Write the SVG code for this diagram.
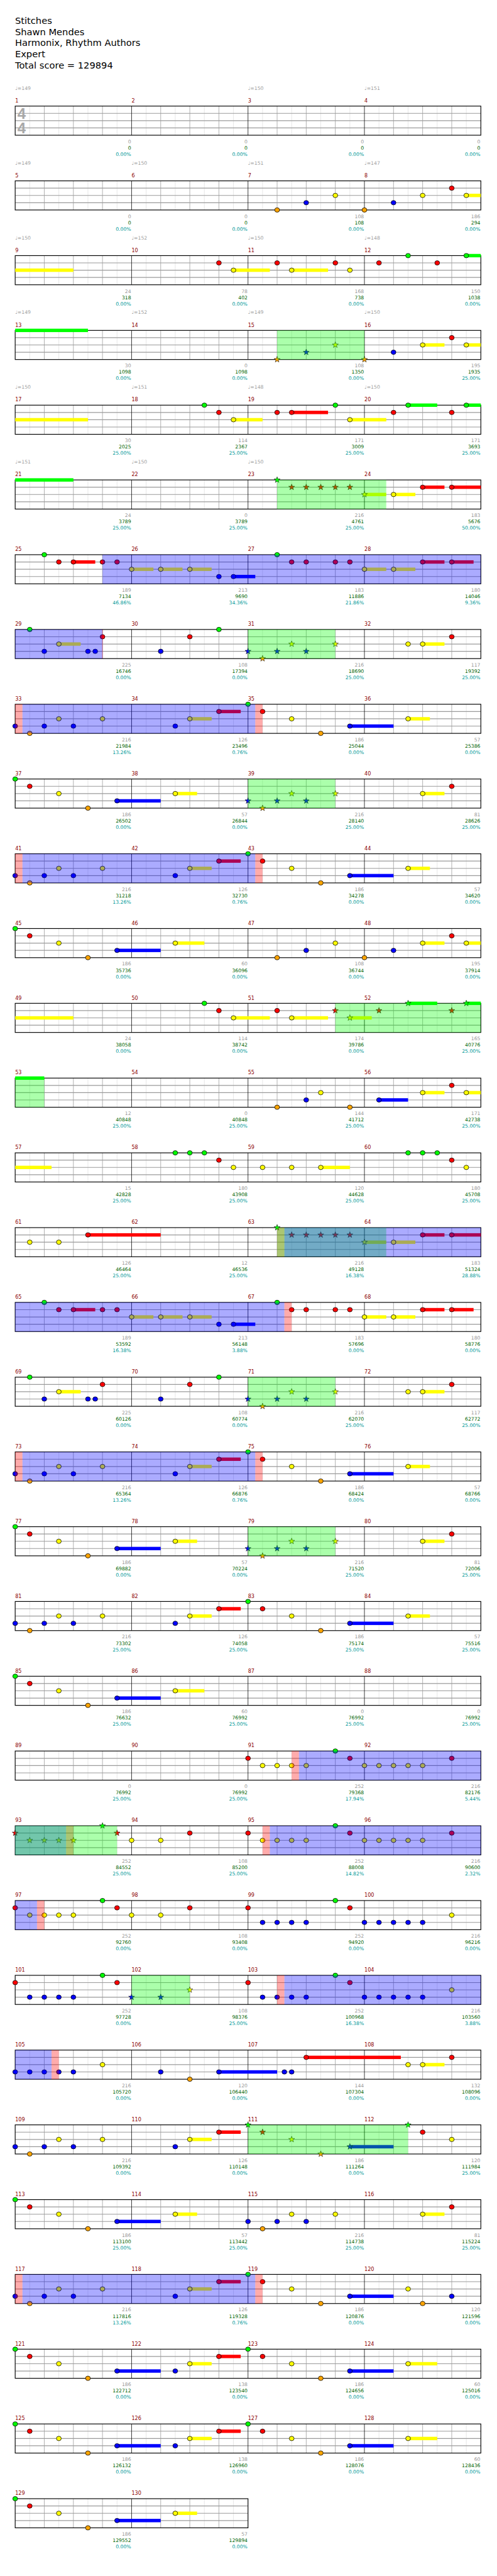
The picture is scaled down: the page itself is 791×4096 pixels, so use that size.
<svg xmlns="http://www.w3.org/2000/svg" width="791" height="4096" viewBox="0 0 791 4096">
<style>
text{font-family:"DejaVu Sans",Verdana,sans-serif}
.h{font-size:19px;fill:#000}
.t{font-size:10px;fill:#a0a0a0}
.m{font-size:10.5px;fill:#8b0000}
.s1{font-size:10px;fill:#999;text-anchor:end}
.s2{font-size:10px;fill:#006400;text-anchor:end}
.s3{font-size:10px;fill:#009999;text-anchor:end}
.ts{font-family:"Liberation Sans",Arial,sans-serif;font-size:31px;font-weight:bold;fill:#a8a8a8;text-anchor:middle}
.sg{fill:#0f0}.sr{fill:#f00}.sy{fill:#ff0}.sb{fill:#00f}.so{fill:#ffa500}
.ob{fill:#00f;fill-opacity:.33}.og{fill:#0f0;fill-opacity:.33}.oq{fill:#f00;fill-opacity:.33}
</style>
<defs>
<g id="grid4">
<rect width="960" height="60" fill="#fff"/>
<path d="M30 0V60M90 0V60M150 0V60M210 0V60M270 0V60M330 0V60M390 0V60M450 0V60M510 0V60M570 0V60M630 0V60M690 0V60M750 0V60M810 0V60M870 0V60M930 0V60" stroke="#e0e0e0"/>
<path d="M60 0V60M120 0V60M180 0V60M300 0V60M360 0V60M420 0V60M540 0V60M600 0V60M660 0V60M780 0V60M840 0V60M900 0V60" stroke="#9a9a9a"/>
<path d="M0 15H960M0 30H960M0 45H960" stroke="#9a9a9a" stroke-width="1.5"/>
<path d="M240 0V60M480 0V60M720 0V60" stroke="#000"/>
<rect width="960" height="60" fill="none" stroke="#000" stroke-width="1.5"/>
</g>
<g id="grid2">
<rect width="480" height="60" fill="#fff"/>
<path d="M30 0V60M90 0V60M150 0V60M210 0V60M270 0V60M330 0V60M390 0V60M450 0V60" stroke="#e0e0e0"/>
<path d="M60 0V60M120 0V60M180 0V60M300 0V60M360 0V60M420 0V60" stroke="#9a9a9a"/>
<path d="M0 15H480M0 30H480M0 45H480" stroke="#9a9a9a" stroke-width="1.5"/>
<path d="M240 0V60" stroke="#000"/>
<rect width="480" height="60" fill="none" stroke="#000" stroke-width="1.5"/>
</g>
<ellipse id="nG" rx="5" ry="4.6" fill="#0f0" stroke="#000"/>
<ellipse id="nR" cy="15" rx="5" ry="4.6" fill="#f00" stroke="#000"/>
<ellipse id="nY" cy="30" rx="5" ry="4.6" fill="#ff0" stroke="#000"/>
<ellipse id="nB" cy="45" rx="5" ry="4.6" fill="#00f" stroke="#000"/>
<ellipse id="nO" cy="60" rx="5" ry="4.6" fill="#ffa500" stroke="#000"/>
<path id="st" d="M0-6.5L1.53-2.1L6.18-2.01L2.47.8L3.82 5.26L0 2.6L-3.82 5.26L-2.47.8L-6.18-2.01L-1.53-2.1Z" stroke="#000" stroke-width=".7"/>
<use id="sG" href="#st" fill="#0f0"/>
<use id="sR" href="#st" y="15" fill="#f00"/>
<use id="sY" href="#st" y="30" fill="#ff0"/>
<use id="sB" href="#st" y="45" fill="#00f"/>
<use id="sO" href="#st" y="60" fill="#ffa500"/>
<g id="pA">
<rect class="sy" x="360" y="26.5" width="45" height="7"/><rect class="sr" x="420" y="11.5" width="45" height="7"/><rect class="sb" x="690" y="41.5" width="90" height="7"/><rect class="sy" x="810" y="26.5" width="45" height="7"/>
<use href="#nB"/><use href="#nO" x="30"/><use href="#nB" x="60"/><use href="#nY" x="90"/><use href="#nB" x="120"/><use href="#nY" x="180"/><use href="#nB" x="330"/><use href="#nY" x="360"/><use href="#nR" x="420"/><use href="#nG" x="480"/><use href="#nR" x="510"/><use href="#nY" x="570"/><use href="#nO" x="630"/><use href="#nB" x="690"/><use href="#nY" x="810"/>
</g>
<g id="pB">
<rect class="sb" x="210" y="41.5" width="90" height="7"/><rect class="sy" x="330" y="26.5" width="45" height="7"/><rect class="sy" x="840" y="26.5" width="45" height="7"/>
<use href="#nG"/><use href="#nR" x="30"/><use href="#nY" x="90"/><use href="#nO" x="150"/><use href="#nB" x="210"/><use href="#nY" x="330"/><use href="#nY" x="840"/><use href="#nR" x="900"/>
<use href="#sB" x="480"/><use href="#sO" x="510"/><use href="#sB" x="540"/><use href="#sY" x="570"/><use href="#sB" x="600"/><use href="#sY" x="660"/>
</g>
<g id="pC">
<rect class="sr" x="120" y="11.5" width="45" height="7"/><rect class="sy" x="240" y="26.5" width="45" height="7"/><rect class="sy" x="300" y="26.5" width="45" height="7"/><rect class="sy" x="360" y="26.5" width="45" height="7"/><rect class="sb" x="450" y="41.5" width="45" height="7"/><rect class="sy" x="720" y="26.5" width="45" height="7"/><rect class="sy" x="780" y="26.5" width="45" height="7"/><rect class="sr" x="840" y="11.5" width="45" height="7"/><rect class="sr" x="900" y="11.5" width="45" height="7"/>
<use href="#nG" x="60"/><use href="#nR" x="90"/><use href="#nR" x="120"/><use href="#nR" x="180"/><use href="#nR" x="210"/><use href="#nY" x="240"/><use href="#nY" x="300"/><use href="#nY" x="360"/><use href="#nB" x="420"/><use href="#nB" x="450"/><use href="#nG" x="540"/><use href="#nR" x="570"/><use href="#nR" x="600"/><use href="#nR" x="660"/><use href="#nR" x="690"/><use href="#nY" x="720"/><use href="#nY" x="780"/><use href="#nR" x="840"/><use href="#nR" x="900"/>
</g>
<g id="pD">
<rect class="sy" x="90" y="26.5" width="45" height="7"/><rect class="sy" x="840" y="26.5" width="45" height="7"/>
<use href="#nG" x="30"/><use href="#nB" x="60"/><use href="#nY" x="90"/><use href="#nB" x="150"/><use href="#nB" x="165"/><use href="#nR" x="180"/><use href="#nB" x="300"/><use href="#nR" x="360"/><use href="#nG" x="420"/><use href="#nY" x="810"/><use href="#nY" x="840"/><use href="#nR" x="900"/>
<use href="#sB" x="480"/><use href="#sO" x="510"/><use href="#sB" x="540"/><use href="#sY" x="570"/><use href="#sB" x="600"/><use href="#sY" x="660"/>
</g>
<g id="pE">
<rect class="sb" x="210" y="41.5" width="90" height="7"/><rect class="sy" x="360" y="26.5" width="45" height="7"/><rect class="sr" x="420" y="11.5" width="45" height="7"/><rect class="sb" x="690" y="41.5" width="90" height="7"/><rect class="sy" x="810" y="26.5" width="60" height="7"/>
<use href="#nG"/><use href="#nR" x="30"/><use href="#nY" x="90"/><use href="#nO" x="150"/><use href="#nB" x="210"/><use href="#nB" x="330"/><use href="#nY" x="360"/><use href="#nR" x="420"/><use href="#nG" x="480"/><use href="#nR" x="510"/><use href="#nY" x="570"/><use href="#nO" x="630"/><use href="#nB" x="690"/><use href="#nY" x="810"/>
</g>
</defs>
<rect width="791" height="4096" fill="#fff"/>
<g transform="scale(0.772)">
<g id="header">
<text class="h" x="31" y="49">Stitches</text>
<text class="h" x="31" y="72">Shawn Mendes</text>
<text class="h" x="31" y="95">Harmonix, Rhythm Authors</text>
<text class="h" x="31" y="118">Expert</text>
<text class="h" x="31" y="141">Total score = 129894</text>
</g>

<g id="row1" transform="translate(31.3,218.5)">
<text class="t" y="-33.5">♩=149</text><text class="t" x="480" y="-33.5">♩=150</text><text class="t" x="720" y="-33.5">♩=151</text>
<text class="m" y="-7.5">1</text><text class="m" x="240" y="-7.5">2</text><text class="m" x="480" y="-7.5">3</text><text class="m" x="720" y="-7.5">4</text>
<use href="#grid4"/>
<text class="ts" x="13.2" y="26.5">4</text><text class="ts" x="13.2" y="56.5">4</text>
<text class="s1" x="239" y="76.5">0</text><text class="s1" x="479" y="76.5">0</text><text class="s1" x="719" y="76.5">0</text><text class="s1" x="959" y="76.5">0</text>
<text class="s2" x="239" y="89.5">0</text><text class="s2" x="479" y="89.5">0</text><text class="s2" x="719" y="89.5">0</text><text class="s2" x="959" y="89.5">0</text>
<text class="s3" x="239" y="102.5">0.00%</text><text class="s3" x="479" y="102.5">0.00%</text><text class="s3" x="719" y="102.5">0.00%</text><text class="s3" x="959" y="102.5">0.00%</text>
</g>

<g id="row2" transform="translate(31.3,372.5)">
<text class="t" y="-33.5">♩=149</text><text class="t" x="240" y="-33.5">♩=150</text><text class="t" x="480" y="-33.5">♩=151</text><text class="t" x="720" y="-33.5">♩=147</text>
<text class="m" y="-7.5">5</text><text class="m" x="240" y="-7.5">6</text><text class="m" x="480" y="-7.5">7</text><text class="m" x="720" y="-7.5">8</text>
<use href="#grid4"/>
<rect class="sy" x="930" y="26.5" width="30" height="7"/>
<use href="#nO" x="540"/><use href="#nB" x="600"/><use href="#nY" x="660"/><use href="#nO" x="720"/><use href="#nB" x="780"/><use href="#nY" x="840"/><use href="#nR" x="900"/><use href="#nY" x="930"/>
<text class="s1" x="239" y="76.5">0</text><text class="s1" x="479" y="76.5">0</text><text class="s1" x="719" y="76.5">108</text><text class="s1" x="959" y="76.5">186</text>
<text class="s2" x="239" y="89.5">0</text><text class="s2" x="479" y="89.5">0</text><text class="s2" x="719" y="89.5">108</text><text class="s2" x="959" y="89.5">294</text>
<text class="s3" x="239" y="102.5">0.00%</text><text class="s3" x="479" y="102.5">0.00%</text><text class="s3" x="719" y="102.5">0.00%</text><text class="s3" x="959" y="102.5">0.00%</text>
</g>

<g id="row3" transform="translate(31.3,526.5)">
<text class="t" y="-33.5">♩=150</text><text class="t" x="240" y="-33.5">♩=152</text><text class="t" x="480" y="-33.5">♩=150</text><text class="t" x="720" y="-33.5">♩=148</text>
<text class="m" y="-7.5">9</text><text class="m" x="240" y="-7.5">10</text><text class="m" x="480" y="-7.5">11</text><text class="m" x="720" y="-7.5">12</text>
<use href="#grid4"/>
<rect class="sy" x="0" y="26.5" width="120" height="7"/><rect class="sy" x="450" y="26.5" width="75" height="7"/><rect class="sy" x="570" y="26.5" width="75" height="7"/><rect class="sg" x="930" y="-3.5" width="30" height="7"/>
<use href="#nR" x="420"/><use href="#nY" x="450"/><use href="#nR" x="540"/><use href="#nY" x="570"/><use href="#nR" x="660"/><use href="#nY" x="690"/><use href="#nR" x="750"/><use href="#nG" x="810"/><use href="#nR" x="870"/><use href="#nG" x="930"/>
<text class="s1" x="239" y="76.5">24</text><text class="s1" x="479" y="76.5">78</text><text class="s1" x="719" y="76.5">168</text><text class="s1" x="959" y="76.5">150</text>
<text class="s2" x="239" y="89.5">318</text><text class="s2" x="479" y="89.5">402</text><text class="s2" x="719" y="89.5">738</text><text class="s2" x="959" y="89.5">1038</text>
<text class="s3" x="239" y="102.5">0.00%</text><text class="s3" x="479" y="102.5">0.00%</text><text class="s3" x="719" y="102.5">0.00%</text><text class="s3" x="959" y="102.5">0.00%</text>
</g>

<g id="row4" transform="translate(31.3,680.5)">
<text class="t" y="-33.5">♩=149</text><text class="t" x="240" y="-33.5">♩=152</text><text class="t" x="480" y="-33.5">♩=149</text><text class="t" x="720" y="-33.5">♩=150</text>
<text class="m" y="-7.5">13</text><text class="m" x="240" y="-7.5">14</text><text class="m" x="480" y="-7.5">15</text><text class="m" x="720" y="-7.5">16</text>
<use href="#grid4"/>
<rect class="sg" x="0" y="-3.5" width="150" height="7"/><rect class="sy" x="840" y="26.5" width="45" height="7"/><rect class="sy" x="930" y="26.5" width="30" height="7"/>
<use href="#sO" x="540"/><use href="#sB" x="600"/><use href="#sY" x="660"/><use href="#sO" x="720"/>
<use href="#nB" x="780"/><use href="#nY" x="840"/><use href="#nR" x="900"/><use href="#nY" x="930"/>
<rect class="og" x="540" width="180" height="60"/>
<text class="s1" x="239" y="76.5">30</text><text class="s1" x="479" y="76.5">0</text><text class="s1" x="719" y="76.5">108</text><text class="s1" x="959" y="76.5">195</text>
<text class="s2" x="239" y="89.5">1098</text><text class="s2" x="479" y="89.5">1098</text><text class="s2" x="719" y="89.5">1350</text><text class="s2" x="959" y="89.5">1935</text>
<text class="s3" x="239" y="102.5">0.00%</text><text class="s3" x="479" y="102.5">0.00%</text><text class="s3" x="719" y="102.5">0.00%</text><text class="s3" x="959" y="102.5">25.00%</text>
</g>

<g id="row5" transform="translate(31.3,834.5)">
<text class="t" y="-33.5">♩=150</text><text class="t" x="240" y="-33.5">♩=151</text><text class="t" x="480" y="-33.5">♩=148</text><text class="t" x="720" y="-33.5">♩=150</text>
<text class="m" y="-7.5">17</text><text class="m" x="240" y="-7.5">18</text><text class="m" x="480" y="-7.5">19</text><text class="m" x="720" y="-7.5">20</text>
<use href="#grid4"/>
<rect class="sy" x="0" y="26.5" width="150" height="7"/><rect class="sy" x="450" y="26.5" width="60" height="7"/><rect class="sr" x="570" y="11.5" width="75" height="7"/><rect class="sy" x="690" y="26.5" width="75" height="7"/><rect class="sg" x="810" y="-3.5" width="60" height="7"/><rect class="sg" x="930" y="-3.5" width="30" height="7"/>
<use href="#nG" x="390"/><use href="#nR" x="420"/><use href="#nY" x="450"/><use href="#nR" x="540"/><use href="#nR" x="570"/><use href="#nG" x="660"/><use href="#nY" x="690"/><use href="#nR" x="780"/><use href="#nG" x="810"/><use href="#nR" x="900"/><use href="#nG" x="930"/>
<text class="s1" x="239" y="76.5">30</text><text class="s1" x="479" y="76.5">114</text><text class="s1" x="719" y="76.5">171</text><text class="s1" x="959" y="76.5">171</text>
<text class="s2" x="239" y="89.5">2025</text><text class="s2" x="479" y="89.5">2367</text><text class="s2" x="719" y="89.5">3009</text><text class="s2" x="959" y="89.5">3693</text>
<text class="s3" x="239" y="102.5">25.00%</text><text class="s3" x="479" y="102.5">25.00%</text><text class="s3" x="719" y="102.5">25.00%</text><text class="s3" x="959" y="102.5">25.00%</text>
</g>

<g id="row6" transform="translate(31.3,988.5)">
<text class="t" y="-33.5">♩=151</text><text class="t" x="240" y="-33.5">♩=150</text><text class="t" x="480" y="-33.5">♩=150</text>
<text class="m" y="-7.5">21</text><text class="m" x="240" y="-7.5">22</text><text class="m" x="480" y="-7.5">23</text><text class="m" x="720" y="-7.5">24</text>
<use href="#grid4"/>
<rect class="sg" x="0" y="-3.5" width="120" height="7"/><rect class="sy" x="720" y="26.5" width="45" height="7"/><rect class="sy" x="780" y="26.5" width="45" height="7"/><rect class="sr" x="840" y="11.5" width="45" height="7"/><rect class="sr" x="900" y="11.5" width="60" height="7"/>
<use href="#sG" x="540"/><use href="#sR" x="570"/><use href="#sR" x="600"/><use href="#sR" x="630"/><use href="#sR" x="660"/><use href="#sR" x="690"/><use href="#sY" x="720"/>
<use href="#nY" x="780"/><use href="#nR" x="840"/><use href="#nR" x="900"/>
<rect class="og" x="540" width="225" height="60"/>
<text class="s1" x="239" y="76.5">24</text><text class="s1" x="479" y="76.5">0</text><text class="s1" x="719" y="76.5">216</text><text class="s1" x="959" y="76.5">183</text>
<text class="s2" x="239" y="89.5">3789</text><text class="s2" x="479" y="89.5">3789</text><text class="s2" x="719" y="89.5">4761</text><text class="s2" x="959" y="89.5">5676</text>
<text class="s3" x="239" y="102.5">25.00%</text><text class="s3" x="479" y="102.5">25.00%</text><text class="s3" x="719" y="102.5">25.00%</text><text class="s3" x="959" y="102.5">50.00%</text>
</g>

<g id="row7" transform="translate(31.3,1142.5)">
<text class="m" y="-7.5">25</text><text class="m" x="240" y="-7.5">26</text><text class="m" x="480" y="-7.5">27</text><text class="m" x="720" y="-7.5">28</text>
<use href="#grid4"/>
<use href="#pC"/>
<rect class="ob" x="180" width="780" height="60"/>
<text class="s1" x="239" y="76.5">189</text><text class="s1" x="479" y="76.5">213</text><text class="s1" x="719" y="76.5">183</text><text class="s1" x="959" y="76.5">180</text>
<text class="s2" x="239" y="89.5">7134</text><text class="s2" x="479" y="89.5">9690</text><text class="s2" x="719" y="89.5">11886</text><text class="s2" x="959" y="89.5">14046</text>
<text class="s3" x="239" y="102.5">46.86%</text><text class="s3" x="479" y="102.5">34.36%</text><text class="s3" x="719" y="102.5">21.86%</text><text class="s3" x="959" y="102.5">9.36%</text>
</g>

<g id="row8" transform="translate(31.3,1296.5)">
<text class="m" y="-7.5">29</text><text class="m" x="240" y="-7.5">30</text><text class="m" x="480" y="-7.5">31</text><text class="m" x="720" y="-7.5">32</text>
<use href="#grid4"/>
<use href="#pD"/>
<rect class="ob" x="0" width="180" height="60"/><rect class="oq" x="179.3" width="1.4" height="60"/><rect class="og" x="480" width="180" height="60"/>
<text class="s1" x="239" y="76.5">225</text><text class="s1" x="479" y="76.5">108</text><text class="s1" x="719" y="76.5">216</text><text class="s1" x="959" y="76.5">117</text>
<text class="s2" x="239" y="89.5">16746</text><text class="s2" x="479" y="89.5">17394</text><text class="s2" x="719" y="89.5">18690</text><text class="s2" x="959" y="89.5">19392</text>
<text class="s3" x="239" y="102.5">0.00%</text><text class="s3" x="479" y="102.5">0.00%</text><text class="s3" x="719" y="102.5">25.00%</text><text class="s3" x="959" y="102.5">25.00%</text>
</g>

<g id="row9" transform="translate(31.3,1450.5)">
<text class="m" y="-7.5">33</text><text class="m" x="240" y="-7.5">34</text><text class="m" x="480" y="-7.5">35</text><text class="m" x="720" y="-7.5">36</text>
<use href="#grid4"/>
<use href="#pA"/>
<rect class="oq" x="0" width="15" height="60"/><rect class="ob" x="15" width="480" height="60"/><rect class="oq" x="495" width="15" height="60"/>
<text class="s1" x="239" y="76.5">216</text><text class="s1" x="479" y="76.5">126</text><text class="s1" x="719" y="76.5">186</text><text class="s1" x="959" y="76.5">57</text>
<text class="s2" x="239" y="89.5">21984</text><text class="s2" x="479" y="89.5">23496</text><text class="s2" x="719" y="89.5">25044</text><text class="s2" x="959" y="89.5">25386</text>
<text class="s3" x="239" y="102.5">13.26%</text><text class="s3" x="479" y="102.5">0.76%</text><text class="s3" x="719" y="102.5">0.00%</text><text class="s3" x="959" y="102.5">0.00%</text>
</g>

<g id="row10" transform="translate(31.3,1604.5)">
<text class="m" y="-7.5">37</text><text class="m" x="240" y="-7.5">38</text><text class="m" x="480" y="-7.5">39</text><text class="m" x="720" y="-7.5">40</text>
<use href="#grid4"/>
<use href="#pB"/>
<rect class="og" x="480" width="180" height="60"/>
<text class="s1" x="239" y="76.5">186</text><text class="s1" x="479" y="76.5">57</text><text class="s1" x="719" y="76.5">216</text><text class="s1" x="959" y="76.5">81</text>
<text class="s2" x="239" y="89.5">26502</text><text class="s2" x="479" y="89.5">26844</text><text class="s2" x="719" y="89.5">28140</text><text class="s2" x="959" y="89.5">28626</text>
<text class="s3" x="239" y="102.5">0.00%</text><text class="s3" x="479" y="102.5">0.00%</text><text class="s3" x="719" y="102.5">25.00%</text><text class="s3" x="959" y="102.5">25.00%</text>
</g>

<g id="row11" transform="translate(31.3,1758.5)">
<text class="m" y="-7.5">41</text><text class="m" x="240" y="-7.5">42</text><text class="m" x="480" y="-7.5">43</text><text class="m" x="720" y="-7.5">44</text>
<use href="#grid4"/>
<use href="#pA"/>
<rect class="oq" x="0" width="15" height="60"/><rect class="ob" x="15" width="480" height="60"/><rect class="oq" x="495" width="15" height="60"/>
<text class="s1" x="239" y="76.5">216</text><text class="s1" x="479" y="76.5">126</text><text class="s1" x="719" y="76.5">186</text><text class="s1" x="959" y="76.5">57</text>
<text class="s2" x="239" y="89.5">31218</text><text class="s2" x="479" y="89.5">32730</text><text class="s2" x="719" y="89.5">34278</text><text class="s2" x="959" y="89.5">34620</text>
<text class="s3" x="239" y="102.5">13.26%</text><text class="s3" x="479" y="102.5">0.76%</text><text class="s3" x="719" y="102.5">0.00%</text><text class="s3" x="959" y="102.5">0.00%</text>
</g>

<g id="row12" transform="translate(31.3,1912.5)">
<text class="m" y="-7.5">45</text><text class="m" x="240" y="-7.5">46</text><text class="m" x="480" y="-7.5">47</text><text class="m" x="720" y="-7.5">48</text>
<use href="#grid4"/>
<rect class="sb" x="210" y="41.5" width="90" height="7"/><rect class="sy" x="330" y="26.5" width="60" height="7"/><rect class="sy" x="840" y="26.5" width="45" height="7"/><rect class="sy" x="930" y="26.5" width="30" height="7"/>
<use href="#nG"/><use href="#nR" x="30"/><use href="#nY" x="90"/><use href="#nO" x="150"/><use href="#nB" x="210"/><use href="#nY" x="330"/><use href="#nO" x="540"/><use href="#nB" x="600"/><use href="#nY" x="660"/><use href="#nO" x="720"/><use href="#nB" x="780"/><use href="#nY" x="840"/><use href="#nR" x="900"/><use href="#nY" x="930"/>
<text class="s1" x="239" y="76.5">186</text><text class="s1" x="479" y="76.5">60</text><text class="s1" x="719" y="76.5">108</text><text class="s1" x="959" y="76.5">195</text>
<text class="s2" x="239" y="89.5">35736</text><text class="s2" x="479" y="89.5">36096</text><text class="s2" x="719" y="89.5">36744</text><text class="s2" x="959" y="89.5">37914</text>
<text class="s3" x="239" y="102.5">0.00%</text><text class="s3" x="479" y="102.5">0.00%</text><text class="s3" x="719" y="102.5">0.00%</text><text class="s3" x="959" y="102.5">0.00%</text>
</g>

<g id="row13" transform="translate(31.3,2066.5)">
<text class="m" y="-7.5">49</text><text class="m" x="240" y="-7.5">50</text><text class="m" x="480" y="-7.5">51</text><text class="m" x="720" y="-7.5">52</text>
<use href="#grid4"/>
<rect class="sy" x="0" y="26.5" width="120" height="7"/><rect class="sy" x="450" y="26.5" width="75" height="7"/><rect class="sy" x="570" y="26.5" width="75" height="7"/><rect class="sy" x="690" y="26.5" width="45" height="7"/><rect class="sg" x="810" y="-3.5" width="60" height="7"/><rect class="sg" x="930" y="-3.5" width="30" height="7"/>
<use href="#nG" x="390"/><use href="#nR" x="420"/><use href="#nY" x="450"/><use href="#nR" x="540"/><use href="#nY" x="570"/>
<use href="#sR" x="660"/><use href="#sY" x="690"/><use href="#sR" x="750"/><use href="#sG" x="810"/><use href="#sR" x="900"/><use href="#sG" x="930"/>
<rect class="og" x="660" width="300" height="60"/>
<text class="s1" x="239" y="76.5">24</text><text class="s1" x="479" y="76.5">114</text><text class="s1" x="719" y="76.5">174</text><text class="s1" x="959" y="76.5">165</text>
<text class="s2" x="239" y="89.5">38058</text><text class="s2" x="479" y="89.5">38742</text><text class="s2" x="719" y="89.5">39786</text><text class="s2" x="959" y="89.5">40776</text>
<text class="s3" x="239" y="102.5">0.00%</text><text class="s3" x="479" y="102.5">0.00%</text><text class="s3" x="719" y="102.5">0.00%</text><text class="s3" x="959" y="102.5">25.00%</text>
</g>

<g id="row14" transform="translate(31.3,2220.5)">
<text class="m" y="-7.5">53</text><text class="m" x="240" y="-7.5">54</text><text class="m" x="480" y="-7.5">55</text><text class="m" x="720" y="-7.5">56</text>
<use href="#grid4"/>
<rect class="sg" x="0" y="-3.5" width="60" height="7"/><rect class="sb" x="750" y="41.5" width="60" height="7"/><rect class="sy" x="840" y="26.5" width="45" height="7"/><rect class="sy" x="930" y="26.5" width="30" height="7"/>
<use href="#nO" x="540"/><use href="#nB" x="600"/><use href="#nY" x="630"/><use href="#nO" x="690"/><use href="#nB" x="750"/><use href="#nY" x="840"/><use href="#nR" x="900"/><use href="#nY" x="930"/>
<rect class="og" x="0" width="60" height="60"/>
<text class="s1" x="239" y="76.5">12</text><text class="s1" x="479" y="76.5">0</text><text class="s1" x="719" y="76.5">144</text><text class="s1" x="959" y="76.5">171</text>
<text class="s2" x="239" y="89.5">40848</text><text class="s2" x="479" y="89.5">40848</text><text class="s2" x="719" y="89.5">41712</text><text class="s2" x="959" y="89.5">42738</text>
<text class="s3" x="239" y="102.5">25.00%</text><text class="s3" x="479" y="102.5">25.00%</text><text class="s3" x="719" y="102.5">25.00%</text><text class="s3" x="959" y="102.5">25.00%</text>
</g>

<g id="row15" transform="translate(31.3,2374.5)">
<text class="m" y="-7.5">57</text><text class="m" x="240" y="-7.5">58</text><text class="m" x="480" y="-7.5">59</text><text class="m" x="720" y="-7.5">60</text>
<use href="#grid4"/>
<rect class="sy" x="0" y="26.5" width="75" height="7"/><rect class="sy" x="630" y="26.5" width="60" height="7"/>
<use href="#nG" x="330"/><use href="#nG" x="360"/><use href="#nG" x="390"/><use href="#nR" x="420"/><use href="#nY" x="450"/><use href="#nY" x="510"/><use href="#nY" x="570"/><use href="#nY" x="630"/><use href="#nG" x="810"/><use href="#nG" x="840"/><use href="#nG" x="870"/><use href="#nR" x="900"/><use href="#nY" x="930"/>
<text class="s1" x="239" y="76.5">15</text><text class="s1" x="479" y="76.5">180</text><text class="s1" x="719" y="76.5">120</text><text class="s1" x="959" y="76.5">180</text>
<text class="s2" x="239" y="89.5">42828</text><text class="s2" x="479" y="89.5">43908</text><text class="s2" x="719" y="89.5">44628</text><text class="s2" x="959" y="89.5">45708</text>
<text class="s3" x="239" y="102.5">25.00%</text><text class="s3" x="479" y="102.5">25.00%</text><text class="s3" x="719" y="102.5">25.00%</text><text class="s3" x="959" y="102.5">25.00%</text>
</g>

<g id="row16" transform="translate(31.3,2528.5)">
<text class="m" y="-7.5">61</text><text class="m" x="240" y="-7.5">62</text><text class="m" x="480" y="-7.5">63</text><text class="m" x="720" y="-7.5">64</text>
<use href="#grid4"/>
<rect class="sr" x="150" y="11.5" width="150" height="7"/><rect class="sy" x="720" y="26.5" width="45" height="7"/><rect class="sy" x="780" y="26.5" width="45" height="7"/><rect class="sr" x="840" y="11.5" width="45" height="7"/><rect class="sr" x="900" y="11.5" width="60" height="7"/>
<use href="#nY" x="30"/><use href="#nY" x="90"/><use href="#nR" x="150"/>
<use href="#sG" x="540"/><use href="#sR" x="570"/><use href="#sR" x="600"/><use href="#sR" x="630"/><use href="#sR" x="660"/><use href="#sR" x="690"/><use href="#sY" x="720"/>
<use href="#nY" x="780"/><use href="#nR" x="840"/><use href="#nR" x="900"/>
<rect class="oq" x="540" width="15" height="60"/><rect class="og" x="540" width="225" height="60"/><rect class="ob" x="555" width="405" height="60"/>
<text class="s1" x="239" y="76.5">126</text><text class="s1" x="479" y="76.5">12</text><text class="s1" x="719" y="76.5">216</text><text class="s1" x="959" y="76.5">183</text>
<text class="s2" x="239" y="89.5">46464</text><text class="s2" x="479" y="89.5">46536</text><text class="s2" x="719" y="89.5">49128</text><text class="s2" x="959" y="89.5">51324</text>
<text class="s3" x="239" y="102.5">25.00%</text><text class="s3" x="479" y="102.5">25.00%</text><text class="s3" x="719" y="102.5">16.38%</text><text class="s3" x="959" y="102.5">28.88%</text>
</g>

<g id="row17" transform="translate(31.3,2682.5)">
<text class="m" y="-7.5">65</text><text class="m" x="240" y="-7.5">66</text><text class="m" x="480" y="-7.5">67</text><text class="m" x="720" y="-7.5">68</text>
<use href="#grid4"/>
<use href="#pC"/>
<rect class="ob" x="0" width="555" height="60"/><rect class="oq" x="555" width="15" height="60"/>
<text class="s1" x="239" y="76.5">189</text><text class="s1" x="479" y="76.5">213</text><text class="s1" x="719" y="76.5">183</text><text class="s1" x="959" y="76.5">180</text>
<text class="s2" x="239" y="89.5">53592</text><text class="s2" x="479" y="89.5">56148</text><text class="s2" x="719" y="89.5">57696</text><text class="s2" x="959" y="89.5">58776</text>
<text class="s3" x="239" y="102.5">16.38%</text><text class="s3" x="479" y="102.5">3.88%</text><text class="s3" x="719" y="102.5">0.00%</text><text class="s3" x="959" y="102.5">0.00%</text>
</g>

<g id="row18" transform="translate(31.3,2836.5)">
<text class="m" y="-7.5">69</text><text class="m" x="240" y="-7.5">70</text><text class="m" x="480" y="-7.5">71</text><text class="m" x="720" y="-7.5">72</text>
<use href="#grid4"/>
<use href="#pD"/>
<rect class="og" x="480" width="180" height="60"/>
<text class="s1" x="239" y="76.5">225</text><text class="s1" x="479" y="76.5">108</text><text class="s1" x="719" y="76.5">216</text><text class="s1" x="959" y="76.5">117</text>
<text class="s2" x="239" y="89.5">60126</text><text class="s2" x="479" y="89.5">60774</text><text class="s2" x="719" y="89.5">62070</text><text class="s2" x="959" y="89.5">62772</text>
<text class="s3" x="239" y="102.5">0.00%</text><text class="s3" x="479" y="102.5">0.00%</text><text class="s3" x="719" y="102.5">25.00%</text><text class="s3" x="959" y="102.5">25.00%</text>
</g>

<g id="row19" transform="translate(31.3,2990.5)">
<text class="m" y="-7.5">73</text><text class="m" x="240" y="-7.5">74</text><text class="m" x="480" y="-7.5">75</text><text class="m" x="720" y="-7.5">76</text>
<use href="#grid4"/>
<use href="#pA"/>
<rect class="oq" x="0" width="15" height="60"/><rect class="ob" x="15" width="480" height="60"/><rect class="oq" x="495" width="15" height="60"/>
<text class="s1" x="239" y="76.5">216</text><text class="s1" x="479" y="76.5">126</text><text class="s1" x="719" y="76.5">186</text><text class="s1" x="959" y="76.5">57</text>
<text class="s2" x="239" y="89.5">65364</text><text class="s2" x="479" y="89.5">66876</text><text class="s2" x="719" y="89.5">68424</text><text class="s2" x="959" y="89.5">68766</text>
<text class="s3" x="239" y="102.5">13.26%</text><text class="s3" x="479" y="102.5">0.76%</text><text class="s3" x="719" y="102.5">0.00%</text><text class="s3" x="959" y="102.5">0.00%</text>
</g>

<g id="row20" transform="translate(31.3,3144.5)">
<text class="m" y="-7.5">77</text><text class="m" x="240" y="-7.5">78</text><text class="m" x="480" y="-7.5">79</text><text class="m" x="720" y="-7.5">80</text>
<use href="#grid4"/>
<use href="#pB"/>
<rect class="og" x="480" width="180" height="60"/>
<text class="s1" x="239" y="76.5">186</text><text class="s1" x="479" y="76.5">57</text><text class="s1" x="719" y="76.5">216</text><text class="s1" x="959" y="76.5">81</text>
<text class="s2" x="239" y="89.5">69882</text><text class="s2" x="479" y="89.5">70224</text><text class="s2" x="719" y="89.5">71520</text><text class="s2" x="959" y="89.5">72006</text>
<text class="s3" x="239" y="102.5">0.00%</text><text class="s3" x="479" y="102.5">0.00%</text><text class="s3" x="719" y="102.5">25.00%</text><text class="s3" x="959" y="102.5">25.00%</text>
</g>

<g id="row21" transform="translate(31.3,3298.5)">
<text class="m" y="-7.5">81</text><text class="m" x="240" y="-7.5">82</text><text class="m" x="480" y="-7.5">83</text><text class="m" x="720" y="-7.5">84</text>
<use href="#grid4"/>
<use href="#pA"/>
<text class="s1" x="239" y="76.5">216</text><text class="s1" x="479" y="76.5">126</text><text class="s1" x="719" y="76.5">186</text><text class="s1" x="959" y="76.5">57</text>
<text class="s2" x="239" y="89.5">73302</text><text class="s2" x="479" y="89.5">74058</text><text class="s2" x="719" y="89.5">75174</text><text class="s2" x="959" y="89.5">75516</text>
<text class="s3" x="239" y="102.5">25.00%</text><text class="s3" x="479" y="102.5">25.00%</text><text class="s3" x="719" y="102.5">25.00%</text><text class="s3" x="959" y="102.5">25.00%</text>
</g>

<g id="row22" transform="translate(31.3,3452.5)">
<text class="m" y="-7.5">85</text><text class="m" x="240" y="-7.5">86</text><text class="m" x="480" y="-7.5">87</text><text class="m" x="720" y="-7.5">88</text>
<use href="#grid4"/>
<rect class="sb" x="210" y="41.5" width="90" height="7"/><rect class="sy" x="330" y="26.5" width="60" height="7"/>
<use href="#nG"/><use href="#nR" x="30"/><use href="#nY" x="90"/><use href="#nO" x="150"/><use href="#nB" x="210"/><use href="#nY" x="330"/>
<text class="s1" x="239" y="76.5">186</text><text class="s1" x="479" y="76.5">60</text><text class="s1" x="719" y="76.5">0</text><text class="s1" x="959" y="76.5">0</text>
<text class="s2" x="239" y="89.5">76632</text><text class="s2" x="479" y="89.5">76992</text><text class="s2" x="719" y="89.5">76992</text><text class="s2" x="959" y="89.5">76992</text>
<text class="s3" x="239" y="102.5">25.00%</text><text class="s3" x="479" y="102.5">25.00%</text><text class="s3" x="719" y="102.5">25.00%</text><text class="s3" x="959" y="102.5">25.00%</text>
</g>

<g id="row23" transform="translate(31.3,3606.5)">
<text class="m" y="-7.5">89</text><text class="m" x="240" y="-7.5">90</text><text class="m" x="480" y="-7.5">91</text><text class="m" x="720" y="-7.5">92</text>
<use href="#grid4"/>
<use href="#nR" x="480"/><use href="#nY" x="510"/><use href="#nY" x="540"/><use href="#nY" x="570"/><use href="#nY" x="600"/><use href="#nG" x="660"/><use href="#nR" x="690"/><use href="#nY" x="720"/><use href="#nY" x="750"/><use href="#nY" x="780"/><use href="#nY" x="810"/><use href="#nY" x="840"/><use href="#nR" x="900"/>
<rect class="oq" x="570" width="15" height="60"/><rect class="ob" x="585" width="375" height="60"/>
<text class="s1" x="239" y="76.5">0</text><text class="s1" x="479" y="76.5">0</text><text class="s1" x="719" y="76.5">252</text><text class="s1" x="959" y="76.5">216</text>
<text class="s2" x="239" y="89.5">76992</text><text class="s2" x="479" y="89.5">76992</text><text class="s2" x="719" y="89.5">79368</text><text class="s2" x="959" y="89.5">82176</text>
<text class="s3" x="239" y="102.5">25.00%</text><text class="s3" x="479" y="102.5">25.00%</text><text class="s3" x="719" y="102.5">17.94%</text><text class="s3" x="959" y="102.5">5.44%</text>
</g>

<g id="row24" transform="translate(31.3,3760.5)">
<text class="m" y="-7.5">93</text><text class="m" x="240" y="-7.5">94</text><text class="m" x="480" y="-7.5">95</text><text class="m" x="720" y="-7.5">96</text>
<use href="#grid4"/>
<use href="#sR"/><use href="#sY" x="30"/><use href="#sY" x="60"/><use href="#sY" x="90"/><use href="#sY" x="120"/><use href="#sG" x="180"/><use href="#sR" x="210"/>
<use href="#nY" x="240"/><use href="#nY" x="300"/><use href="#nR" x="360"/><use href="#nR" x="480"/><use href="#nY" x="510"/><use href="#nY" x="540"/><use href="#nY" x="570"/><use href="#nY" x="600"/><use href="#nG" x="660"/><use href="#nR" x="690"/><use href="#nY" x="720"/><use href="#nY" x="750"/><use href="#nY" x="780"/><use href="#nY" x="810"/><use href="#nY" x="840"/><use href="#nR" x="900"/>
<rect class="ob" x="0" width="105" height="60"/><rect class="oq" x="105" width="15" height="60"/><rect class="og" x="0" width="210" height="60"/><rect class="oq" x="510" width="15" height="60"/><rect class="ob" x="525" width="435" height="60"/>
<text class="s1" x="239" y="76.5">252</text><text class="s1" x="479" y="76.5">108</text><text class="s1" x="719" y="76.5">252</text><text class="s1" x="959" y="76.5">216</text>
<text class="s2" x="239" y="89.5">84552</text><text class="s2" x="479" y="89.5">85200</text><text class="s2" x="719" y="89.5">88008</text><text class="s2" x="959" y="89.5">90600</text>
<text class="s3" x="239" y="102.5">25.00%</text><text class="s3" x="479" y="102.5">25.00%</text><text class="s3" x="719" y="102.5">14.82%</text><text class="s3" x="959" y="102.5">2.32%</text>
</g>

<g id="row25" transform="translate(31.3,3914.5)">
<text class="m" y="-7.5">97</text><text class="m" x="240" y="-7.5">98</text><text class="m" x="480" y="-7.5">99</text><text class="m" x="720" y="-7.5">100</text>
<use href="#grid4"/>
<use href="#nR"/><use href="#nY" x="30"/><use href="#nY" x="60"/><use href="#nY" x="90"/><use href="#nY" x="120"/><use href="#nG" x="180"/><use href="#nR" x="210"/><use href="#nY" x="240"/><use href="#nY" x="300"/><use href="#nR" x="360"/><use href="#nR" x="480"/><use href="#nB" x="510"/><use href="#nB" x="540"/><use href="#nB" x="570"/><use href="#nB" x="600"/><use href="#nG" x="660"/><use href="#nR" x="690"/><use href="#nB" x="720"/><use href="#nB" x="750"/><use href="#nB" x="780"/><use href="#nB" x="810"/><use href="#nB" x="840"/><use href="#nY" x="900"/>
<rect class="ob" x="0" width="45" height="60"/><rect class="oq" x="45" width="15" height="60"/>
<text class="s1" x="239" y="76.5">252</text><text class="s1" x="479" y="76.5">108</text><text class="s1" x="719" y="76.5">252</text><text class="s1" x="959" y="76.5">216</text>
<text class="s2" x="239" y="89.5">92760</text><text class="s2" x="479" y="89.5">93408</text><text class="s2" x="719" y="89.5">94920</text><text class="s2" x="959" y="89.5">96216</text>
<text class="s3" x="239" y="102.5">0.00%</text><text class="s3" x="479" y="102.5">0.00%</text><text class="s3" x="719" y="102.5">0.00%</text><text class="s3" x="959" y="102.5">0.00%</text>
</g>

<g id="row26" transform="translate(31.3,4068.5)">
<text class="m" y="-7.5">101</text><text class="m" x="240" y="-7.5">102</text><text class="m" x="480" y="-7.5">103</text><text class="m" x="720" y="-7.5">104</text>
<use href="#grid4"/>
<use href="#nR"/><use href="#nB" x="30"/><use href="#nB" x="60"/><use href="#nB" x="90"/><use href="#nB" x="120"/><use href="#nG" x="180"/><use href="#nR" x="210"/>
<use href="#sB" x="240"/><use href="#sB" x="300"/><use href="#sY" x="360"/>
<use href="#nR" x="480"/><use href="#nB" x="510"/><use href="#nB" x="540"/><use href="#nB" x="570"/><use href="#nB" x="600"/><use href="#nG" x="660"/><use href="#nR" x="690"/><use href="#nB" x="720"/><use href="#nB" x="750"/><use href="#nB" x="780"/><use href="#nB" x="810"/><use href="#nB" x="840"/><use href="#nY" x="900"/>
<rect class="og" x="240" width="120" height="60"/><rect class="oq" x="540" width="15" height="60"/><rect class="ob" x="555" width="405" height="60"/>
<text class="s1" x="239" y="76.5">252</text><text class="s1" x="479" y="76.5">108</text><text class="s1" x="719" y="76.5">252</text><text class="s1" x="959" y="76.5">216</text>
<text class="s2" x="239" y="89.5">97728</text><text class="s2" x="479" y="89.5">98376</text><text class="s2" x="719" y="89.5">100968</text><text class="s2" x="959" y="89.5">103560</text>
<text class="s3" x="239" y="102.5">0.00%</text><text class="s3" x="479" y="102.5">25.00%</text><text class="s3" x="719" y="102.5">16.38%</text><text class="s3" x="959" y="102.5">3.88%</text>
</g>

<g id="row27" transform="translate(31.3,4222.5)">
<text class="m" y="-7.5">105</text><text class="m" x="240" y="-7.5">106</text><text class="m" x="480" y="-7.5">107</text><text class="m" x="720" y="-7.5">108</text>
<use href="#grid4"/>
<rect class="sb" x="420" y="41.5" width="120" height="7"/><rect class="sr" x="600" y="11.5" width="195" height="7"/><rect class="sy" x="840" y="26.5" width="45" height="7"/>
<use href="#nB"/><use href="#nB" x="30"/><use href="#nB" x="60"/><use href="#nB" x="90"/><use href="#nB" x="120"/><use href="#nY" x="180"/><use href="#nB" x="300"/><use href="#nO" x="360"/><use href="#nB" x="420"/><use href="#nB" x="555"/><use href="#nB" x="570"/><use href="#nR" x="600"/><use href="#nY" x="810"/><use href="#nY" x="840"/><use href="#nR" x="900"/>
<rect class="ob" x="0" width="75" height="60"/><rect class="oq" x="75" width="15" height="60"/>
<text class="s1" x="239" y="76.5">216</text><text class="s1" x="479" y="76.5">120</text><text class="s1" x="719" y="76.5">144</text><text class="s1" x="959" y="76.5">132</text>
<text class="s2" x="239" y="89.5">105720</text><text class="s2" x="479" y="89.5">106440</text><text class="s2" x="719" y="89.5">107304</text><text class="s2" x="959" y="89.5">108096</text>
<text class="s3" x="239" y="102.5">0.00%</text><text class="s3" x="479" y="102.5">0.00%</text><text class="s3" x="719" y="102.5">0.00%</text><text class="s3" x="959" y="102.5">0.00%</text>
</g>

<g id="row28" transform="translate(31.3,4376.5)">
<text class="m" y="-7.5">109</text><text class="m" x="240" y="-7.5">110</text><text class="m" x="480" y="-7.5">111</text><text class="m" x="720" y="-7.5">112</text>
<use href="#grid4"/>
<rect class="sy" x="360" y="26.5" width="45" height="7"/><rect class="sr" x="420" y="11.5" width="45" height="7"/><rect class="sb" x="690" y="41.5" width="90" height="7"/>
<use href="#nB"/><use href="#nO" x="30"/><use href="#nB" x="60"/><use href="#nY" x="90"/><use href="#nB" x="120"/><use href="#nY" x="180"/><use href="#nB" x="330"/><use href="#nY" x="360"/><use href="#nR" x="420"/>
<use href="#sG" x="480"/><use href="#sR" x="510"/><use href="#sY" x="570"/><use href="#sO" x="630"/><use href="#sB" x="690"/><use href="#sG" x="810"/>
<use href="#nR" x="840"/><use href="#nY" x="900"/>
<rect class="og" x="480" width="330" height="60"/>
<text class="s1" x="239" y="76.5">216</text><text class="s1" x="479" y="76.5">126</text><text class="s1" x="719" y="76.5">186</text><text class="s1" x="959" y="76.5">120</text>
<text class="s2" x="239" y="89.5">109392</text><text class="s2" x="479" y="89.5">110148</text><text class="s2" x="719" y="89.5">111264</text><text class="s2" x="959" y="89.5">111984</text>
<text class="s3" x="239" y="102.5">0.00%</text><text class="s3" x="479" y="102.5">0.00%</text><text class="s3" x="719" y="102.5">0.00%</text><text class="s3" x="959" y="102.5">25.00%</text>
</g>

<g id="row29" transform="translate(31.3,4530.5)">
<text class="m" y="-7.5">113</text><text class="m" x="240" y="-7.5">114</text><text class="m" x="480" y="-7.5">115</text><text class="m" x="720" y="-7.5">116</text>
<use href="#grid4"/>
<rect class="sb" x="210" y="41.5" width="90" height="7"/><rect class="sy" x="330" y="26.5" width="45" height="7"/><rect class="sy" x="840" y="26.5" width="45" height="7"/>
<use href="#nG"/><use href="#nR" x="30"/><use href="#nY" x="90"/><use href="#nO" x="150"/><use href="#nB" x="210"/><use href="#nY" x="330"/><use href="#nB" x="480"/><use href="#nO" x="510"/><use href="#nB" x="540"/><use href="#nY" x="570"/><use href="#nB" x="600"/><use href="#nY" x="660"/><use href="#nY" x="840"/><use href="#nR" x="900"/>
<text class="s1" x="239" y="76.5">186</text><text class="s1" x="479" y="76.5">57</text><text class="s1" x="719" y="76.5">216</text><text class="s1" x="959" y="76.5">81</text>
<text class="s2" x="239" y="89.5">113100</text><text class="s2" x="479" y="89.5">113442</text><text class="s2" x="719" y="89.5">114738</text><text class="s2" x="959" y="89.5">115224</text>
<text class="s3" x="239" y="102.5">25.00%</text><text class="s3" x="479" y="102.5">25.00%</text><text class="s3" x="719" y="102.5">25.00%</text><text class="s3" x="959" y="102.5">25.00%</text>
</g>

<g id="row30" transform="translate(31.3,4684.5)">
<text class="m" y="-7.5">117</text><text class="m" x="240" y="-7.5">118</text><text class="m" x="480" y="-7.5">119</text><text class="m" x="720" y="-7.5">120</text>
<use href="#grid4"/>
<rect class="sy" x="360" y="26.5" width="45" height="7"/><rect class="sr" x="420" y="11.5" width="45" height="7"/><rect class="sb" x="690" y="41.5" width="90" height="7"/>
<use href="#nB"/><use href="#nO" x="30"/><use href="#nB" x="60"/><use href="#nY" x="90"/><use href="#nB" x="120"/><use href="#nY" x="180"/><use href="#nB" x="330"/><use href="#nY" x="360"/><use href="#nR" x="420"/><use href="#nG" x="480"/><use href="#nR" x="510"/><use href="#nY" x="570"/><use href="#nO" x="630"/><use href="#nB" x="690"/><use href="#nY" x="810"/><use href="#nO" x="840"/><use href="#nB" x="900"/>
<rect class="oq" x="0" width="15" height="60"/><rect class="ob" x="15" width="480" height="60"/><rect class="oq" x="495" width="15" height="60"/>
<text class="s1" x="239" y="76.5">216</text><text class="s1" x="479" y="76.5">126</text><text class="s1" x="719" y="76.5">186</text><text class="s1" x="959" y="76.5">120</text>
<text class="s2" x="239" y="89.5">117816</text><text class="s2" x="479" y="89.5">119328</text><text class="s2" x="719" y="89.5">120876</text><text class="s2" x="959" y="89.5">121596</text>
<text class="s3" x="239" y="102.5">13.26%</text><text class="s3" x="479" y="102.5">0.76%</text><text class="s3" x="719" y="102.5">0.00%</text><text class="s3" x="959" y="102.5">0.00%</text>
</g>

<g id="row31" transform="translate(31.3,4838.5)">
<text class="m" y="-7.5">121</text><text class="m" x="240" y="-7.5">122</text><text class="m" x="480" y="-7.5">123</text><text class="m" x="720" y="-7.5">124</text>
<use href="#grid4"/>
<use href="#pE"/>
<text class="s1" x="239" y="76.5">186</text><text class="s1" x="479" y="76.5">138</text><text class="s1" x="719" y="76.5">186</text><text class="s1" x="959" y="76.5">60</text>
<text class="s2" x="239" y="89.5">122712</text><text class="s2" x="479" y="89.5">123540</text><text class="s2" x="719" y="89.5">124656</text><text class="s2" x="959" y="89.5">125016</text>
<text class="s3" x="239" y="102.5">0.00%</text><text class="s3" x="479" y="102.5">0.00%</text><text class="s3" x="719" y="102.5">0.00%</text><text class="s3" x="959" y="102.5">0.00%</text>
</g>

<g id="row32" transform="translate(31.3,4992.5)">
<text class="m" y="-7.5">125</text><text class="m" x="240" y="-7.5">126</text><text class="m" x="480" y="-7.5">127</text><text class="m" x="720" y="-7.5">128</text>
<use href="#grid4"/>
<use href="#pE"/>
<text class="s1" x="239" y="76.5">186</text><text class="s1" x="479" y="76.5">138</text><text class="s1" x="719" y="76.5">186</text><text class="s1" x="959" y="76.5">60</text>
<text class="s2" x="239" y="89.5">126132</text><text class="s2" x="479" y="89.5">126960</text><text class="s2" x="719" y="89.5">128076</text><text class="s2" x="959" y="89.5">128436</text>
<text class="s3" x="239" y="102.5">0.00%</text><text class="s3" x="479" y="102.5">0.00%</text><text class="s3" x="719" y="102.5">0.00%</text><text class="s3" x="959" y="102.5">0.00%</text>
</g>

<g id="row33" transform="translate(31.3,5146.5)">
<text class="m" y="-7.5">129</text><text class="m" x="240" y="-7.5">130</text>
<use href="#grid2"/>
<rect class="sb" x="210" y="41.5" width="90" height="7"/><rect class="sy" x="330" y="26.5" width="45" height="7"/>
<use href="#nG"/><use href="#nR" x="30"/><use href="#nY" x="90"/><use href="#nO" x="150"/><use href="#nB" x="210"/><use href="#nY" x="330"/>
<text class="s1" x="239" y="76.5">186</text><text class="s1" x="479" y="76.5">57</text>
<text class="s2" x="239" y="89.5">129552</text><text class="s2" x="479" y="89.5">129894</text>
<text class="s3" x="239" y="102.5">0.00%</text><text class="s3" x="479" y="102.5">0.00%</text>
</g>
</g>
</svg>
